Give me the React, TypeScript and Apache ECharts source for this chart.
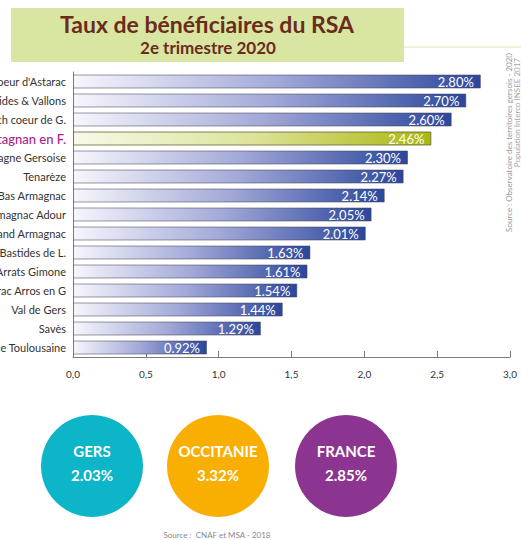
import React, { useEffect, useRef } from "react";
import * as echarts from "echarts";

const categories = [
  "Coeur d'Astarac",
  "Bastides & Vallons",
  "Grand Auch coeur de G.",
  "D'Artagnan en F.",
  "Lomagne Gersoise",
  "Tenarèze",
  "Bas Armagnac",
  "Armagnac Adour",
  "Grand Armagnac",
  "Bastides de L.",
  "Arrats Gimone",
  "Astarac Arros en G",
  "Val de Gers",
  "Savès",
  "Gascogne Toulousaine",
];
const values = [2.8, 2.7, 2.6, 2.46, 2.3, 2.27, 2.14, 2.05, 2.01, 1.63, 1.61, 1.54, 1.44, 1.29, 0.92];
const highlighted = "D'Artagnan en F.";

const summaryNames = ["GERS", "OCCITANIE", "FRANCE"];
const summaryValues = [2.03, 3.32, 2.85];
const summaryColors = ["#0cb5c7", "#f9ae02", "#8c3590"];

const titleText = "Taux de bénéficiaires du RSA";
const subtitleText = "2e trimestre 2020";
const sourceSide1 = "Source : Observatoire des territoires gersois - 2020";
const sourceSide2 = "Population Interco INSEE 2017";
const sourceBottom = "Source :  CNAF et MSA - 2018";

const FONT = "Lato, 'Open Sans', sans-serif";

export default function App() {
  const ref = useRef<HTMLDivElement>(null);
  useEffect(() => {
    if (!ref.current) return;
    const chart = echarts.init(ref.current, undefined, { renderer: "svg" });
    const cats = [...categories].reverse();
    const vals = [...values].reverse();

    const blueGrad = new echarts.graphic.LinearGradient(0, 0, 1, 0, [
      { offset: 0, color: "#f6f6fc" },
      { offset: 0.5, color: "#a3a9d8" },
      { offset: 1, color: "#2b469c" },
    ]);
    const greenGrad = new echarts.graphic.LinearGradient(0, 0, 1, 0, [
      { offset: 0, color: "#f8f9ea" },
      { offset: 0.5, color: "#dde39a" },
      { offset: 1, color: "#a9b80f" },
    ]);

    const circleGraphics: any[] = [];
    const centers = [92, 218, 346];
    summaryNames.forEach((n, i) => {
      circleGraphics.push({
        type: "circle",
        shape: { cx: centers[i], cy: 466, r: 51 },
        style: { fill: summaryColors[i] },
      });
      circleGraphics.push({
        type: "text",
        x: centers[i],
        y: 451,
        style: {
          text: n,
          fill: "#ffffff",
          font: `bold 15px ${FONT}`,
          textAlign: "center",
          textVerticalAlign: "middle",
        },
      });
      circleGraphics.push({
        type: "text",
        x: centers[i],
        y: 475,
        style: {
          text: summaryValues[i].toFixed(2) + "%",
          fill: "#ffffff",
          font: `bold 15px ${FONT}`,
          textAlign: "center",
          textVerticalAlign: "middle",
        },
      });
    });

    chart.setOption({
      animation: false,
      backgroundColor: "#ffffff",
      grid: {
        left: 73,
        right: 11,
        top: 72,
        bottom: 183,
        containLabel: false,
        outerBoundsMode: "none",
      },
      xAxis: {
        type: "value",
        min: 0,
        max: 3,
        interval: 0.5,
        axisLine: { show: true, lineStyle: { color: "#7a7a7a", width: 1 } },
        axisTick: { show: true, inside: true, length: 6, lineStyle: { color: "#7a7a7a" } },
        splitLine: { show: false },
        axisLabel: {
          color: "#333333",
          fontSize: 10,
          fontFamily: FONT,
          margin: 12,
          formatter: (v: number) => v.toFixed(1).replace(".", ","),
        },
      },
      yAxis: {
        type: "category",
        data: cats,
        axisLine: { show: true, lineStyle: { color: "#7a7a7a", width: 1 } },
        axisTick: { show: false },
        axisLabel: {
          margin: 7,
          fontFamily: FONT,
          fontSize: 11,
          color: "#333333",
          formatter: (v: string) => (v === highlighted ? `{h|${v}}` : v),
          rich: {
            h: { fontSize: 13, color: "#a5238b", fontFamily: FONT, fontWeight: 500 },
          },
        },
      },
      series: [
        {
          type: "bar",
          data: vals.map((v, i) => ({
            value: v,
            itemStyle: {
              color: cats[i] === highlighted ? greenGrad : blueGrad,
              borderColor: cats[i] === highlighted ? "rgba(90,95,40,0.75)" : "rgba(70,70,90,0.55)",
              borderWidth: 1,
            },
          })),
          barWidth: 14,
          label: {
            show: true,
            position: "insideRight",
            distance: 7,
            color: "#ffffff",
            fontSize: 13,
            fontFamily: FONT,
            formatter: (p: any) => p.value.toFixed(2) + "%",
          },
        },
      ],
      graphic: [
        {
          type: "rect",
          shape: { x: 11, y: 8, width: 393, height: 54 },
          style: { fill: "#d8e6a2" },
        },
        {
          type: "line",
          shape: { x1: 404, y1: 47, x2: 521, y2: 47 },
          style: { stroke: "#dbe8b0", lineWidth: 1 },
        },
        {
          type: "text",
          x: 207,
          y: 24,
          style: {
            text: titleText,
            fill: "#6b2b1d",
            font: `bold 23px ${FONT}`,
            textAlign: "center",
            textVerticalAlign: "middle",
          },
        },
        {
          type: "text",
          x: 208,
          y: 47,
          style: {
            text: subtitleText,
            fill: "#6b2b1d",
            font: `bold 17px ${FONT}`,
            textAlign: "center",
            textVerticalAlign: "middle",
          },
        },
        {
          type: "text",
          x: 509,
          y: 53,
          rotation: Math.PI / 2,
          style: {
            text: sourceSide1,
            fill: "#9a9a9a",
            font: `8px ${FONT}`,
            textAlign: "right",
            textVerticalAlign: "middle",
          },
        },
        {
          type: "text",
          x: 517,
          y: 58,
          rotation: Math.PI / 2,
          style: {
            text: sourceSide2,
            fill: "#a8a8a8",
            font: `8px ${FONT}`,
            textAlign: "right",
            textVerticalAlign: "middle",
          },
        },
        ...circleGraphics,
        {
          type: "text",
          x: 217,
          y: 535,
          style: {
            text: sourceBottom,
            fill: "#888888",
            font: `8px ${FONT}`,
            textAlign: "center",
            textVerticalAlign: "middle",
          },
        },
      ],
    });
    return () => chart.dispose();
  }, []);
  return (
    <div
      ref={ref}
      style={{ position: "fixed", left: 0, top: 0, width: 521, height: 540 }}
    />
  );
}
